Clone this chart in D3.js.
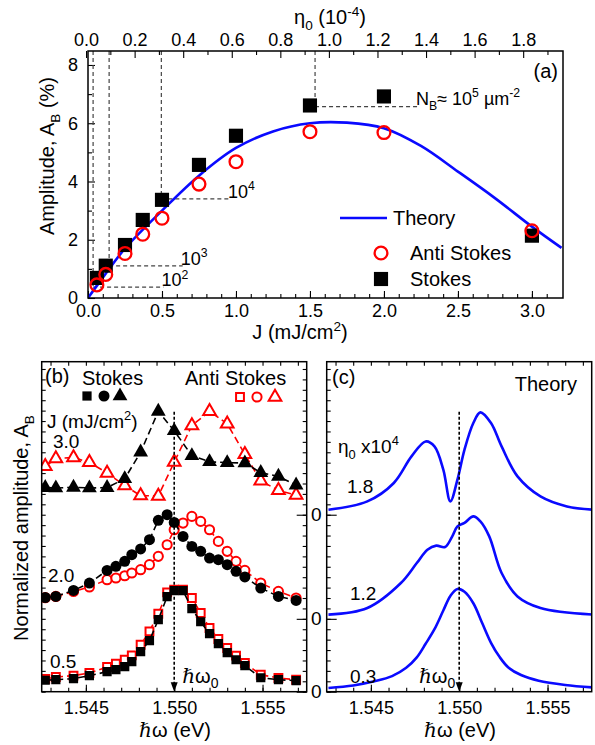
<!DOCTYPE html>
<html>
<head>
<meta charset="utf-8">
<script src="https://cdn.jsdelivr.net/npm/d3@7"></script>
<style>
  body { margin: 0; background: #fff; }
  svg text { font-family: Arial, "Liberation Sans", sans-serif; }
</style>
</head>
<body>
<script>
// ---- panel (a): amplitude vs fluence
const fluence = [0.06, 0.12, 0.25, 0.37, 0.5, 0.75, 1.0, 1.5, 2.0, 3.0];
const ampStokes = [0.69, 1.11, 1.82, 2.68, 3.37, 4.57, 5.57, 6.61, 6.92, 2.14];
const ampAntiStokes = [0.45, 0.81, 1.53, 2.19, 2.74, 3.91, 4.68, 5.71, 5.68, 2.31];
const theoryJ = [0, 0.1, 0.25, 0.5, 0.75, 1.0, 1.25, 1.5, 1.75, 2.0, 2.25, 2.5, 2.75, 3.0, 3.2];
const theoryAmp = [0, 0.7, 1.7, 3.0, 4.2, 5.15, 5.72, 6.0, 6.02, 5.83, 5.22, 4.34, 3.43, 2.45, 1.72];
const jTicks = [0, 0.5, 1.0, 1.5, 2.0, 2.5, 3.0];
const ampTicks = [0, 2, 4, 6, 8];
const etaTicks = [0, 0.2, 0.4, 0.6, 0.8, 1.0, 1.2, 1.4, 1.6, 1.8];
// guides: eta on top axis, amplitude level, end of the horizontal line (J), density label
const guideEta = [0.029, 0.095, 0.31, 0.943];
const guideAmp = [0.37, 1.1, 3.4, 6.57];
const guideJEnd = [0.51, 0.64, 0.96, 2.23];
const guideExp = ["2", "3", "4", "5"];

// ---- panel (b): normalized spectra, y in offset units
const energyB = [1.5427, 1.5433, 1.5443, 1.5452, 1.5462, 1.5467, 1.5472, 1.5476, 1.5481, 1.5486,
  1.5491, 1.5496, 1.5500, 1.5505, 1.5510, 1.5515, 1.5520, 1.5525, 1.5530, 1.5535, 1.5540,
  1.5549, 1.5559, 1.5569];
const stokes05 = [1.10, 1.15, 1.25, 1.54, 1.92, 2.11, 2.40, 2.88, 3.84, 4.90, 6.92, 9.13, 9.70,
  9.70, 7.97, 6.72, 5.57, 4.61, 3.75, 3.07, 2.50, 1.34, 1.15, 1.06];
const anti05 = [1.22, 1.41, 1.54, 1.80, 2.37, 2.69, 3.07, 3.49, 4.51, 5.79, 7.49, 9.54, 9.80,
  9.80, 9.00, 7.56, 6.12, 5.06, 4.20, 3.46, 2.76, 1.63, 1.32, 1.15];
const stokes20 = [9.05, 9.15, 9.73, 10.44, 11.65, 12.04, 12.52, 13.16, 13.71, 14.60, 16.46, 17.00,
  16.26, 14.92, 13.96, 13.48, 12.84, 12.68, 12.20, 11.56, 11.02, 9.96, 9.15, 8.77];
const anti20 = [9.03, 9.15, 9.63, 10.06, 10.76, 10.92, 11.14, 11.40, 11.72, 12.20, 13.00, 14.12,
  15.56, 16.20, 16.84, 16.36, 15.56, 14.44, 13.48, 12.52, 11.65, 10.44, 9.63, 9.00];
const energyT = [1.5427, 1.5433, 1.5443, 1.5452, 1.5462, 1.5472, 1.5481, 1.5491, 1.5500, 1.5510,
  1.5520, 1.5530, 1.5540, 1.5549, 1.5559, 1.5569];
const stokes30 = [19.60, 19.57, 19.63, 19.57, 19.60, 20.46, 23.01, 26.93, 25.07, 22.67, 22.09,
  22.00, 21.97, 21.04, 20.68, 19.84];
const anti30 = [21.64, 22.40, 22.50, 22.03, 21.01, 19.79, 18.83, 18.80, 22.05, 25.57, 26.93,
  25.74, 22.81, 20.25, 19.34, 18.88];
const fluenceLabels = ["0.5", "2.0", "3.0"];

// ---- panel (c): theory spectra
const e03 = [1.5426, 1.5440, 1.5452, 1.5462, 1.5470, 1.5476, 1.5481, 1.5486, 1.5491, 1.5495,
  1.5499, 1.5503, 1.5508, 1.5513, 1.5518, 1.5523, 1.5528, 1.5535, 1.5545, 1.5560, 1.5576];
const a03 = [0.36, 0.6, 1.0, 1.5, 2.3, 3.3, 4.6, 6.0, 7.8, 9.2, 9.87, 9.6, 8.5, 6.6, 4.7, 3.3,
  2.3, 1.6, 1.05, 0.65, 0.41];
const e12 = [1.5426, 1.5448, 1.5467, 1.5476, 1.5482, 1.5487, 1.5492, 1.5496, 1.5499, 1.5503,
  1.5508, 1.5512, 1.5517, 1.5524, 1.5533, 1.5546, 1.5576];
const a12 = [7.40, 8.04, 10.44, 12.36, 13.64, 14.03, 13.90, 14.90, 15.88, 16.21, 16.84, 16.36,
  14.92, 11.40, 9.15, 8.04, 7.40];
const e18 = [1.5426, 1.5448, 1.5463, 1.5473, 1.5481, 1.5486, 1.5491, 1.5495, 1.5499, 1.5503,
  1.5508, 1.5512, 1.5518, 1.5524, 1.5533, 1.5546, 1.5561, 1.5576];
const a18 = [17.48, 18.28, 20.05, 22.60, 24.04, 23.56, 21.33, 18.28, 20.37, 23.25, 25.81, 26.83,
  25.81, 23.56, 20.68, 18.76, 17.80, 17.48];
const etaLabels = ["0.3", "1.2", "1.8"];
const etaOffsets = [0, 7, 17];
const omega0 = 1.550;
const eTicks = [1.545, 1.550, 1.555];

const width = 595, height = 745;
const RED = "#ff0000", BLUE = "#0a0aff";
const svg = d3.select("body").append("svg").attr("width", width).attr("height", height);

function styleAxis(g, size) {
  g.attr("font-size", size).attr("font-family", "Arial, 'Liberation Sans', sans-serif");
  g.select(".domain").remove();
  g.selectAll(".tick line").attr("stroke", "#000").attr("stroke-width", 1.1);
  g.selectAll(".tick text").attr("fill", "#000");
}

// text with sub / superscripts
function rich(parent, x, y, parts, size, anchor) {
  const t = parent.append("text").attr("x", x).attr("y", y)
    .attr("font-size", size).attr("text-anchor", anchor || "start");
  let shift = 0;
  parts.forEach(([s, kind]) => {
    const target = kind === "sup" ? -0.42 * size : kind === "sub" ? 0.3 * size : 0;
    t.append("tspan").attr("dy", target - shift)
      .attr("font-size", kind ? size * 0.68 : size).text(s);
    shift = target;
  });
  return t;
}

function frame(x0, y0, x1, y1) {
  svg.append("rect").attr("x", x0).attr("y", y0).attr("width", x1 - x0).attr("height", y1 - y0)
    .attr("fill", "none").attr("stroke", "#000").attr("stroke-width", 1.5);
}

// ================= panel (a)
const xA = d3.scaleLinear().domain([0, 3.21]).range([88, 563]);
const yA = d3.scaleLinear().domain([0, 8.48]).range([298, 51]);
const xEta = d3.scaleLinear().domain([0.008, 1.964]).range([88, 563]);

svg.append("defs").append("clipPath").attr("id", "clipA")
  .append("rect").attr("x", 88).attr("y", 51).attr("width", 475).attr("height", 247);

svg.append("g").attr("transform", "translate(0,298)")
  .call(d3.axisBottom(xA).tickValues(jTicks).tickFormat(d3.format(".1f")).tickSize(-7).tickPadding(6))
  .call(g => styleAxis(g, 18));
svg.append("g").attr("transform", "translate(0,298)")
  .call(d3.axisBottom(xA).tickValues(d3.range(1, 32).map(i => i / 10)).tickFormat("").tickSize(-4))
  .call(g => styleAxis(g, 18));
svg.append("g").attr("transform", "translate(88,0)")
  .call(d3.axisLeft(yA).tickValues(ampTicks).tickSize(-7).tickPadding(10))
  .call(g => styleAxis(g, 18));
svg.append("g").attr("transform", "translate(88,0)")
  .call(d3.axisLeft(yA).tickValues([1, 3, 5, 7]).tickFormat("").tickSize(-4))
  .call(g => styleAxis(g, 18));
svg.append("g").attr("transform", "translate(0,51)")
  .call(d3.axisTop(xEta).tickValues(etaTicks).tickFormat(d3.format(".1f")).tickSize(-7).tickPadding(5))
  .call(g => styleAxis(g, 18));
svg.append("g").attr("transform", "translate(0,51)")
  .call(d3.axisTop(xEta).tickValues(d3.range(0, 10).map(i => 0.1 + 0.2 * i)).tickFormat("").tickSize(-4))
  .call(g => styleAxis(g, 18));

// dashed guides
const guides = svg.append("g").attr("stroke", "#444").attr("stroke-width", 1.2)
  .attr("stroke-dasharray", "4,3").attr("fill", "none");
guideEta.forEach((eta, i) => {
  guides.append("line").attr("x1", xEta(eta)).attr("x2", xEta(eta))
    .attr("y1", yA.range()[1]).attr("y2", yA(guideAmp[i]));
  guides.append("line").attr("x1", xEta(eta)).attr("x2", xA(guideJEnd[i]))
    .attr("y1", yA(guideAmp[i])).attr("y2", yA(guideAmp[i]));
});
guideEta.forEach((eta, i) => {
  const parts = i < 3 ? [["10"], [guideExp[i], "sup"]]
    : [["N"], ["B", "sub"], ["\u2248 10"], [guideExp[i], "sup"], [" \u00b5m"], ["-2", "sup"]];
  rich(svg, xA(guideJEnd[i]) - 2, yA(guideAmp[i]) - (i === 3 ? 2 : 1), parts, 18);
});

svg.append("path").datum(d3.zip(theoryJ, theoryAmp))
  .attr("clip-path", "url(#clipA)")
  .attr("fill", "none").attr("stroke", BLUE).attr("stroke-width", 2.6)
  .attr("d", d3.line().x(d => xA(d[0])).y(d => yA(d[1])).curve(d3.curveCatmullRom.alpha(0.5)));

const sq = d3.symbol().type(d3.symbolSquare).size(200);
svg.append("g").selectAll("path").data(d3.zip(fluence, ampStokes)).join("path")
  .attr("transform", d => `translate(${xA(d[0])},${yA(d[1])})`)
  .attr("d", sq).attr("fill", "#000");
svg.append("g").selectAll("circle").data(d3.zip(fluence, ampAntiStokes)).join("circle")
  .attr("cx", d => xA(d[0])).attr("cy", d => yA(d[1])).attr("r", 6.4)
  .attr("fill", "none").attr("stroke", RED).attr("stroke-width", 2.3);

// legend
const legA = svg.append("g");
legA.append("line").attr("x1", 340).attr("x2", 387).attr("y1", 218).attr("y2", 218)
  .attr("stroke", BLUE).attr("stroke-width", 2.6);
legA.append("text").attr("x", 393).attr("y", 225).attr("font-size", 20).text("Theory");
legA.append("circle").attr("cx", 381).attr("cy", 253).attr("r", 6.4)
  .attr("fill", "none").attr("stroke", RED).attr("stroke-width", 2.3);
legA.append("text").attr("x", 410).attr("y", 260).attr("font-size", 20).text("Anti Stokes");
legA.append("path").attr("transform", "translate(381,279)").attr("d", sq).attr("fill", "#000");
legA.append("text").attr("x", 410).attr("y", 286).attr("font-size", 20).text("Stokes");
svg.append("text").attr("x", 558).attr("y", 78).attr("font-size", 20)
  .attr("text-anchor", "end").text("(a)");

frame(88, 51, 563, 298);

rich(svg, 0, 0, [["J (mJ/cm"], ["2", "sup"], [")"]], 20, "middle")
  .attr("x", 300).attr("y", 339);
rich(svg, 0, 0, [["\u03b7"], ["0", "sub"], [" (10"], ["-4", "sup"], [")"]], 20, "middle")
  .attr("x", 330).attr("y", 24);
rich(svg, 0, 0, [["Amplitude, A"], ["B", "sub"], [" (%)"]], 20, "middle")
  .attr("transform", "translate(54,156) rotate(-90)");

// ================= panels (b) and (c)
const yBC = d3.scaleLinear().domain([0, 31.7]).range([691.7, 361.7]);
const xB = d3.scaleLinear().domain([1.5425, 1.5575]).range([41.7, 306.7]);
const xC = d3.scaleLinear().domain([1.5425, 1.5575]).range([326.7, 591.7]);
const yMinor = d3.range(0, 32);
const eMinor = d3.range(1543, 1558).map(v => v / 1000);

const defs = svg.append("defs");
defs.append("clipPath").attr("id", "clipB").append("rect")
  .attr("x", 41.7).attr("y", 361.7).attr("width", 265).attr("height", 330);
defs.append("clipPath").attr("id", "clipC").append("rect")
  .attr("x", 326.7).attr("y", 361.7).attr("width", 265).attr("height", 330);

[xB, xC].forEach(x => {
  svg.append("g").attr("transform", "translate(0,691.7)")
    .call(d3.axisBottom(x).tickValues(eTicks).tickFormat(d3.format(".3f")).tickSize(-7).tickPadding(10))
    .call(g => styleAxis(g, 18));
  svg.append("g").attr("transform", "translate(0,691.7)")
    .call(d3.axisBottom(x).tickValues(eMinor).tickFormat("").tickSize(-4))
    .call(g => styleAxis(g, 18));
  svg.append("g").attr("transform", "translate(0,361.7)")
    .call(d3.axisTop(x).tickValues(eMinor).tickFormat("").tickSize(-4))
    .call(g => styleAxis(g, 18));
});
// minor y ticks on the inner sides
[[41.7, "L"], [306.7, "R"], [326.7, "L"]].forEach(([x0, side]) => {
  const ax = side === "L" ? d3.axisLeft(yBC) : d3.axisRight(yBC);
  svg.append("g").attr("transform", `translate(${x0},0)`)
    .call(ax.tickValues(yMinor).tickFormat("").tickSize(-4))
    .call(g => styleAxis(g, 18));
});
// zero levels of the theory curves, shared between (b) and (c)
svg.append("g").attr("transform", "translate(326.7,0)")
  .call(d3.axisLeft(yBC).tickValues(etaOffsets).tickFormat(() => "0").tickSize(-10).tickPadding(5))
  .call(g => styleAxis(g, 19));
svg.append("g").attr("transform", "translate(306.7,0)")
  .call(d3.axisRight(yBC).tickValues(etaOffsets).tickFormat("").tickSize(-10))
  .call(g => styleAxis(g, 19));

// resonance marker
function omegaMarker(x, label) {
  const g = svg.append("g");
  g.append("line").attr("x1", x(omega0)).attr("x2", x(omega0))
    .attr("y1", yBC(26.9)).attr("y2", yBC(0.6))
    .attr("stroke", "#000").attr("stroke-width", 1.6).attr("stroke-dasharray", "3,2");
  g.append("path")
    .attr("d", `M${x(omega0) - 3.5},${yBC(0.9)}L${x(omega0) + 3.5},${yBC(0.9)}L${x(omega0)},${yBC(0)}Z`)
    .attr("fill", "#000");
  const t = g.append("text").attr("y", 683).attr("font-size", 20);
  t.append("tspan").attr("font-family", "'DejaVu Serif', serif").attr("font-style", "italic").text("\u210f");
  t.append("tspan").text("\u03c9");
  t.append("tspan").attr("dy", 5).attr("font-size", 14).text("0");
  if (label === "right") t.attr("x", x(omega0) + 8);
  else t.attr("x", x(omega0) - 4).attr("text-anchor", "end");
}

// (b) series
const gB = svg.append("g").attr("clip-path", "url(#clipB)");
const lineB = (xs) => d3.line().x((d, i) => xB(xs[i])).y(d => yBC(d));
const series = [
  { e: energyB, v: anti05, color: RED, sym: "square", open: true },
  { e: energyB, v: stokes05, color: "#000", sym: "square", open: false },
  { e: energyB, v: anti20, color: RED, sym: "circle", open: true },
  { e: energyB, v: stokes20, color: "#000", sym: "circle", open: false },
  { e: energyT, v: anti30, color: RED, sym: "triangle", open: true },
  { e: energyT, v: stokes30, color: "#000", sym: "triangle", open: false }
];
omegaMarker(xB, "right");
const symGen = {
  square: d3.symbol().type(d3.symbolSquare),
  circle: d3.symbol().type(d3.symbolCircle),
  triangle: d3.symbol().type(d3.symbolTriangle)
};
const symSize = { square: [62, 85], circle: [66, 95], triangle: [70, 95] };
series.forEach(s => {
  const gs = gB.append("g");
  gs.append("path").datum(s.v).attr("fill", "none").attr("stroke", s.color)
    .attr("stroke-width", 1.6).attr("stroke-dasharray", "7,4").attr("d", lineB(s.e));
  const gen = symGen[s.sym].size(symSize[s.sym][s.open ? 0 : 1]);
  gs.append("g").selectAll("path").data(s.v).join("path")
    .attr("transform", (d, i) => `translate(${xB(s.e[i])},${yBC(d)})`)
    .attr("d", gen)
    .attr("fill", s.open ? "#fff" : s.color)
    .attr("stroke", s.open ? s.color : "none").attr("stroke-width", 2);
});

// (b) header
svg.append("text").attr("x", 45).attr("y", 383).attr("font-size", 20).text("(b)");
svg.append("text").attr("x", 82).attr("y", 385).attr("font-size", 20).text("Stokes");
svg.append("text").attr("x", 185).attr("y", 385).attr("font-size", 20).text("Anti Stokes");
[["square", 87], ["circle", 104], ["triangle", 120]].forEach(([k, x]) => {
  svg.append("path").attr("transform", `translate(${x},396)`)
    .attr("d", symGen[k].size(symSize[k][1])).attr("fill", "#000");
});
[["square", 240], ["circle", 257], ["triangle", 275]].forEach(([k, x]) => {
  svg.append("path").attr("transform", `translate(${x},397)`)
    .attr("d", symGen[k].size(symSize[k][0])).attr("fill", "none")
    .attr("stroke", RED).attr("stroke-width", 2);
});
rich(svg, 47, 428, [["J (mJ/cm"], ["2", "sup"], [")"]], 19);
svg.append("text").attr("x", 53).attr("y", 448).attr("font-size", 19).text(fluenceLabels[2]);
svg.append("text").attr("x", 48).attr("y", 582).attr("font-size", 19).text(fluenceLabels[1]);
svg.append("text").attr("x", 50).attr("y", 668).attr("font-size", 19).text(fluenceLabels[0]);

// (c) theory curves
const gC = svg.append("g").attr("clip-path", "url(#clipC)");
omegaMarker(xC, "left");
[[e03, a03], [e12, a12], [e18, a18]].forEach(([e, a]) => {
  gC.append("path").datum(a).attr("fill", "none").attr("stroke", BLUE).attr("stroke-width", 2.6)
    .attr("d", d3.line().x((d, i) => xC(e[i])).y(d => yBC(d)).curve(d3.curveCatmullRom.alpha(0.5)));
});
svg.append("text").attr("x", 332).attr("y", 384).attr("font-size", 20).text("(c)");
svg.append("text").attr("x", 577).attr("y", 391).attr("font-size", 20)
  .attr("text-anchor", "end").text("Theory");
rich(svg, 338, 453, [["\u03b7"], ["0", "sub"], [" x10"], ["4", "sup"]], 19);
svg.append("text").attr("x", 347).attr("y", 493).attr("font-size", 19).text(etaLabels[2]);
svg.append("text").attr("x", 350).attr("y", 600).attr("font-size", 19).text(etaLabels[1]);
svg.append("text").attr("x", 350).attr("y", 683).attr("font-size", 19).text(etaLabels[0]);

frame(41.7, 361.7, 306.7, 691.7);
frame(326.7, 361.7, 591.7, 691.7);

// axis titles
[[xB, 175], [xC, 460]].forEach(([x, cx]) => {
  const t = svg.append("text").attr("x", cx).attr("y", 737).attr("font-size", 20)
    .attr("text-anchor", "middle");
  t.append("tspan").attr("font-family", "'DejaVu Serif', serif").attr("font-style", "italic").text("\u210f");
  t.append("tspan").text("\u03c9 (eV)");
});
rich(svg, 0, 0, [["Normalized amplitude, A"], ["B", "sub"]], 20, "middle")
  .attr("transform", "translate(28,528) rotate(-90)");
</script>
</body>
</html>
